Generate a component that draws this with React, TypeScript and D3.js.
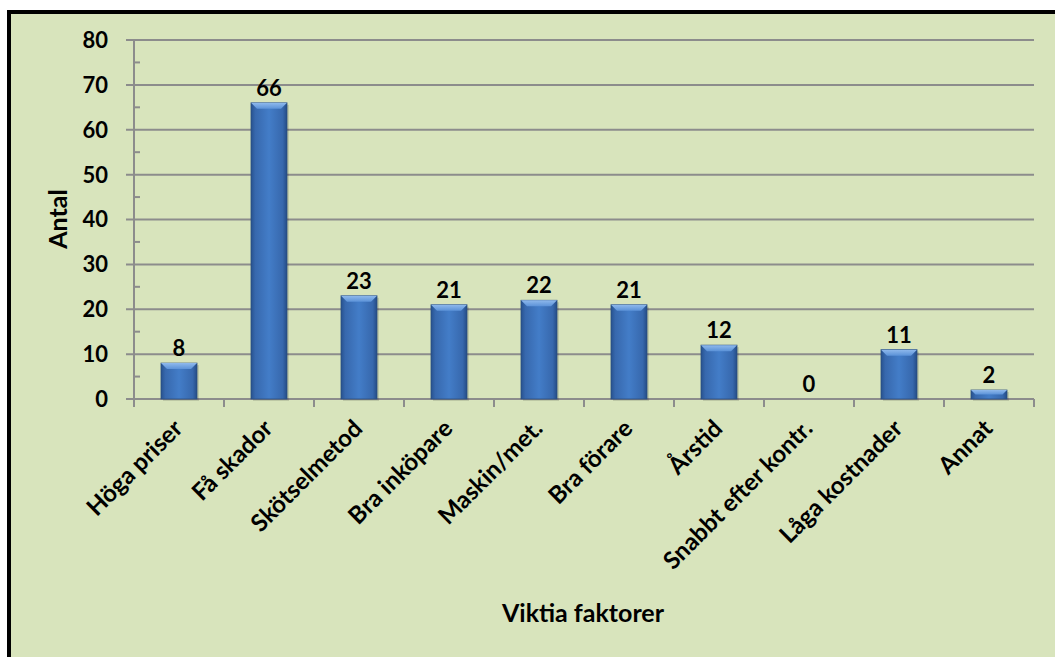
import React from "react";
import * as d3 from "d3";

const categories = ["Höga priser", "Få skador", "Skötselmetod", "Bra inköpare", "Maskin/met.", "Bra förare", "Årstid", "Snabbt efter kontr.", "Låga kostnader", "Annat"];
const values = [8, 66, 23, 21, 22, 21, 12, 0, 11, 2];
const yTicks = [0, 10, 20, 30, 40, 50, 60, 70, 80];
const yMinorTicks = [5, 15, 25, 35, 45, 55, 65, 75];
const xTitle = "Viktia faktorer";
const yTitle = "Antal";

const W = 1055, H = 657;
const left = 134, right = 1034, top = 40, bottom = 399;
const FONT = "Lato, 'Open Sans', sans-serif";

export default function App() {
  const x = d3.scaleBand<string>().domain(categories).range([left, right]).paddingInner(0.6).paddingOuter(0.3);
  const xc = d3.scaleBand<string>().domain(categories).range([left, right]);
  const y = d3.scaleLinear().domain([0, 80]).range([bottom, top]);
  const grid = "#8c8c8c";
  return (
    <div style={{ position: "absolute", left: 0, top: 0 }}>
      <svg width={W} height={H} style={{ display: "block" }}>
        <defs>
          <linearGradient id="barG" x1="0" x2="1" y1="0" y2="0">
            <stop offset="0" stopColor="#27528f" />
            <stop offset="0.12" stopColor="#3768ad" />
            <stop offset="0.5" stopColor="#437dc8" />
            <stop offset="0.88" stopColor="#3768ad" />
            <stop offset="1" stopColor="#244c86" />
          </linearGradient>
          <linearGradient id="topG" x1="0" x2="0" y1="0" y2="1">
            <stop offset="0" stopColor="#8fb9ec" />
            <stop offset="1" stopColor="#5b92d8" />
          </linearGradient>
        </defs>
        <rect x={0} y={0} width={W} height={H} fill="#ffffff" />
        <rect x={9} y={12} width={W + 20} height={H + 20} fill="#d8e4bc" stroke="#000" strokeWidth={4} />
        {yTicks.map((t) => (
          <line key={"g" + t} x1={left - 8} x2={right} y1={y(t)} y2={y(t)} stroke={grid} strokeWidth={2} />
        ))}
        {yMinorTicks.map((t) => (
          <line key={"m" + t} x1={left} x2={left + 6} y1={y(t)} y2={y(t)} stroke={grid} strokeWidth={2} />
        ))}
        <line x1={left} x2={left} y1={top} y2={bottom + 8} stroke={grid} strokeWidth={2} />
        {categories.map((c) => (
          <line key={"xt" + c} x1={(xc(c) as number) + xc.bandwidth()} x2={(xc(c) as number) + xc.bandwidth()} y1={bottom} y2={bottom + 8} stroke={grid} strokeWidth={2} />
        ))}
        {yTicks.map((t) => (
          <text key={"yl" + t} x={108} y={y(t)} dy="0.36em" textAnchor="end" fontFamily={FONT} fontWeight="bold" fontSize={22} fill="#000">{t}</text>
        ))}
        {categories.map((c, i) => {
          const bx = x(c) as number;
          const bw = x.bandwidth();
          const by = y(values[i]);
          const bh = bottom - by;
          const bev = Math.min(6, bh / 2);
          return (
            <g key={"b" + c}>
              {bh > 0 && (
                <>
                  <rect x={bx + 2} y={by + 2} width={bw} height={bh} fill="#000" opacity={0.12} />
                  <rect x={bx} y={by} width={bw} height={bh} fill="url(#barG)" stroke="#2b4f80" strokeWidth={0.8} />
                  <polygon points={`${bx},${by} ${bx + bw},${by} ${bx + bw - bev},${by + bev} ${bx + bev},${by + bev}`} fill="url(#topG)" />
                </>
              )}
              <text x={bx + bw / 2} y={by - 7} textAnchor="middle" fontFamily={FONT} fontWeight="bold" fontSize={22} fill="#000">{values[i]}</text>
            </g>
          );
        })}
        {categories.map((c) => {
          const cx = (xc(c) as number) + xc.bandwidth() / 2 + 5;
          return (
            <text key={"xl" + c} transform={`translate(${cx},${bottom + 31}) rotate(-45)`} textAnchor="end" fontFamily={FONT} fontWeight="bold" fontSize={24} fill="#000">{c}</text>
          );
        })}
        <text transform={`translate(67,219) rotate(-90)`} textAnchor="middle" fontFamily={FONT} fontWeight="bold" fontSize={25} fill="#000">{yTitle}</text>
        <text x={583} y={622} textAnchor="middle" fontFamily={FONT} fontWeight="bold" fontSize={25} fill="#000">{xTitle}</text>
      </svg>
    </div>
  );
}
